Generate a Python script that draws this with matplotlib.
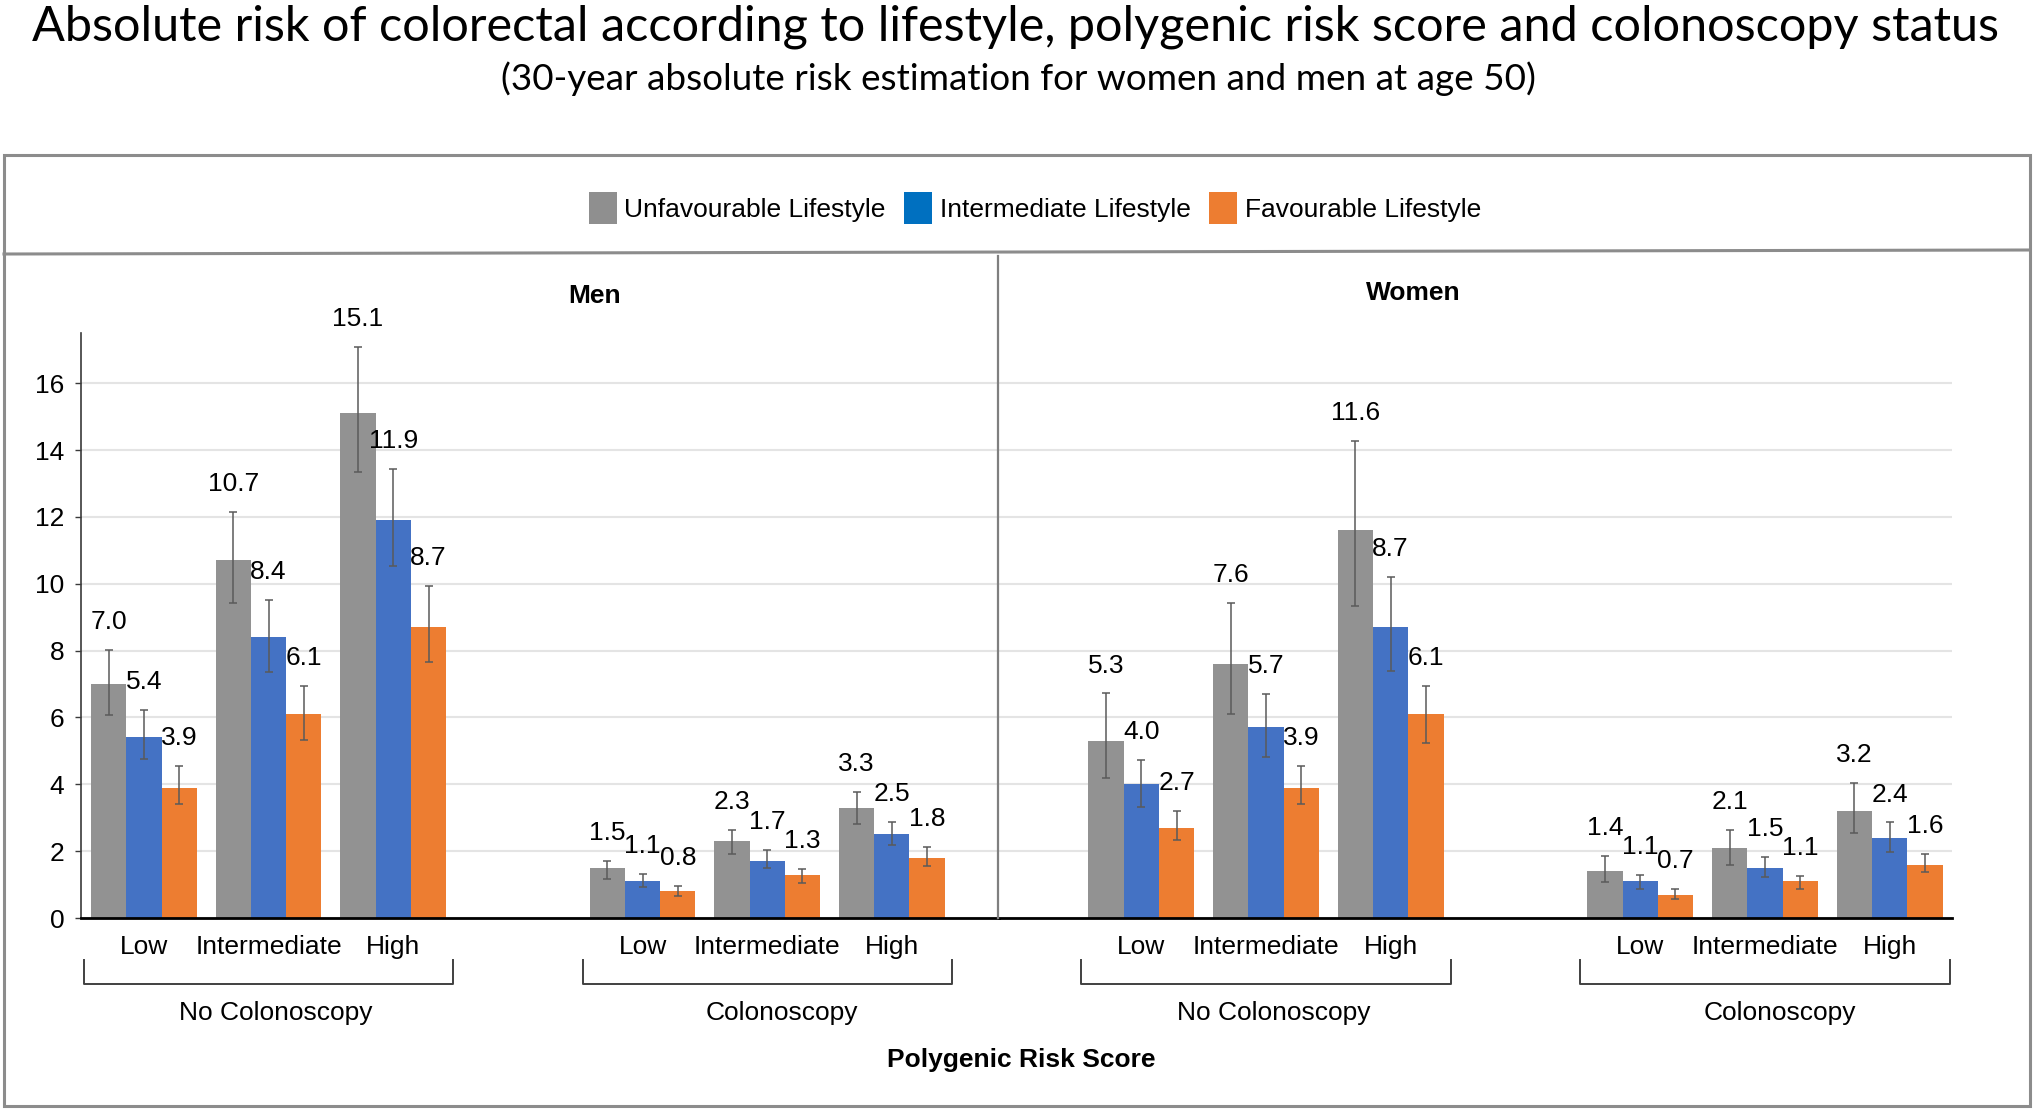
import matplotlib
matplotlib.use("Agg")
import matplotlib.pyplot as plt
from matplotlib.patches import Patch, Rectangle
from matplotlib.lines import Line2D
import numpy as np

# ---- data ----
risk_levels = ["Low", "Intermediate", "High"]
groups = ["No Colonoscopy", "Colonoscopy"]
lifestyles = ["Unfavourable Lifestyle", "Intermediate Lifestyle", "Favourable Lifestyle"]

# order: No colonoscopy Low/Int/High, Colonoscopy Low/Int/High
men_unfav = [7.0, 10.7, 15.1, 1.5, 2.3, 3.3]
men_unfav_lo = [6.07, 9.43, 13.35, 1.16, 1.91, 2.80]
men_unfav_hi = [8.03, 12.15, 17.08, 1.71, 2.63, 3.78]
men_inter = [5.4, 8.4, 11.9, 1.1, 1.7, 2.5]
men_inter_lo = [4.75, 7.37, 10.53, 0.92, 1.49, 2.18]
men_inter_hi = [6.22, 9.51, 13.43, 1.31, 2.03, 2.87]
men_fav = [3.9, 6.1, 8.7, 0.8, 1.3, 1.8]
men_fav_lo = [3.40, 5.32, 7.66, 0.66, 1.06, 1.55]
men_fav_hi = [4.55, 6.95, 9.94, 0.96, 1.47, 2.13]

women_unfav = [5.3, 7.6, 11.6, 1.4, 2.1, 3.2]
women_unfav_lo = [4.20, 6.10, 9.33, 1.09, 1.60, 2.53]
women_unfav_hi = [6.72, 9.43, 14.27, 1.86, 2.63, 4.05]
women_inter = [4.0, 5.7, 8.7, 1.1, 1.5, 2.4]
women_inter_lo = [3.33, 4.81, 7.40, 0.86, 1.24, 1.97]
women_inter_hi = [4.72, 6.70, 10.21, 1.29, 1.83, 2.86]
women_fav = [2.7, 3.9, 6.1, 0.7, 1.1, 1.6]
women_fav_lo = [2.33, 3.40, 5.25, 0.57, 0.87, 1.38]
women_fav_hi = [3.20, 4.55, 6.94, 0.88, 1.25, 1.91]

yticks = [0, 2, 4, 6, 8, 10, 12, 14, 16]

bar_colors = ["#929292", "#4472C4", "#ED7D31"]
legend_colors = ["#8F8F8F", "#0070C0", "#ED7D31"]

plt.rcParams["font.family"] = ["Liberation Sans", "DejaVu Sans"]

W, H = 2036, 1111
fig = plt.figure(figsize=(W / 100, H / 100), dpi=100)


def fx(px):
    return px / W


def fy(py):
    return 1 - py / H


positions = np.array([0, 1, 2, 4, 5, 6])
bar_w = 0.283
fs = 19


def draw_panel(ax, series, xlim, show_y):
    ax.set_xlim(*xlim)
    ax.set_ylim(0, 17.5)
    for k, (vals, lo, hi) in enumerate(series):
        x = positions + (k - 1) * bar_w
        vals = np.array(vals)
        yerr = [vals - np.array(lo), np.array(hi) - vals]
        ax.bar(x, vals, width=bar_w, color=bar_colors[k], zorder=2)
        ax.errorbar(x, vals, yerr=yerr, fmt="none", ecolor="#5a5a5a",
                    elinewidth=1.1, capsize=3, capthick=1.1, zorder=3)
        for xi, v, h in zip(x, vals, hi):
            ax.annotate(f"{v:.1f}", (xi, h), xytext=(0, 20),
                        textcoords="offset points", ha="center", va="center",
                        fontsize=fs)
    ax.set_yticks(yticks)
    ax.grid(axis="y", color="#e4e4e4", lw=1.5, zorder=0)
    ax.set_axisbelow(True)
    for s in ["top", "right"]:
        ax.spines[s].set_visible(False)
    ax.spines["bottom"].set_color("black")
    ax.spines["bottom"].set_linewidth(2)
    if show_y:
        ax.spines["left"].set_color("#3a3a3a")
        ax.spines["left"].set_linewidth(1.2)
        ax.tick_params(axis="y", labelsize=fs, length=4, width=1,
                       color="#3a3a3a", pad=8)
    else:
        ax.spines["left"].set_visible(False)
        ax.tick_params(axis="y", left=False, labelleft=False)
    ax.set_xticks(positions)
    ax.set_xticklabels(risk_levels * 2, fontsize=fs)
    ax.tick_params(axis="x", length=0, pad=12)

    tr = ax.get_xaxis_transform()
    for (s, e), shift, name in zip([(-0.48, 2.48), (3.52, 6.48)], [0.06, 0.12], groups):
        ax.plot([s, s, e, e], [-0.072, -0.113, -0.113, -0.072], transform=tr,
                clip_on=False, color="#404040", lw=1.4)
        ax.text((s + e) / 2 + shift, -0.162, name, transform=tr, ha="center",
                va="center", fontsize=fs)


ax_bottom = fy(918)
ax_h = fy(333) - ax_bottom
ax_men = fig.add_axes([fx(81), ax_bottom, fx(999) - fx(81), ax_h])
ax_women = fig.add_axes([fx(999), ax_bottom, fx(1952) - fx(999), ax_h])

draw_panel(ax_men, [(men_unfav, men_unfav_lo, men_unfav_hi),
                    (men_inter, men_inter_lo, men_inter_hi),
                    (men_fav, men_fav_lo, men_fav_hi)], (-0.505, 6.86), True)
draw_panel(ax_women, [(women_unfav, women_unfav_lo, women_unfav_hi),
                      (women_inter, women_inter_lo, women_inter_hi),
                      (women_fav, women_fav_lo, women_fav_hi)], (-1.14, 6.5), False)

fig.text(fx(595), fy(296), "Men", ha="center", va="center", fontsize=fs,
         fontweight="bold")
fig.text(fx(1413), fy(293), "Women", ha="center", va="center", fontsize=fs,
         fontweight="bold")
fig.text(fx(1021), fy(1060), "Polygenic Risk Score", ha="center", va="center",
         fontsize=fs, fontweight="bold")

# frame, legend separator and panel divider
fig.add_artist(Rectangle((fx(4), fy(1106)), fx(2030) - fx(4), fy(155) - fy(1106),
                         transform=fig.transFigure, fill=False,
                         edgecolor="#8c8c8c", lw=2.2))
fig.add_artist(Line2D([fx(4), fx(2030)], [fy(254), fy(250)],
                      transform=fig.transFigure, color="#8c8c8c", lw=2.2))
fig.add_artist(Line2D([fx(998), fx(998)], [fy(256), fy(918)],
                      transform=fig.transFigure, color="#7f7f7f", lw=1.6))

handles = [Patch(facecolor=c, edgecolor="none") for c in legend_colors]
fig.legend(handles, lifestyles, loc="center", bbox_to_anchor=(fx(1035), fy(208)),
           ncol=3, frameon=False, fontsize=fs, handlelength=1.05,
           handleheight=1.5, handletextpad=0.3, columnspacing=0.7)

# titles, fitted to the reference widths
title = fig.text(fx(1016), fy(27),
                 "Absolute risk of colorectal according to lifestyle, polygenic risk score and colonoscopy status",
                 ha="center", va="center", fontsize=30, family=["Lato", "DejaVu Sans"])
subtitle = fig.text(fx(1018), fy(79),
                    "(30-year absolute risk estimation for women and men at age 50)",
                    ha="center", va="center", fontsize=20, family=["Lato", "DejaVu Sans"])
fig.canvas.draw()
r = fig.canvas.get_renderer()
for t, target in [(title, 1967), (subtitle, 1036)]:
    w = t.get_window_extent(r).width
    t.set_fontsize(t.get_fontsize() * target / w)

fig.savefig("out.png", dpi=100)
